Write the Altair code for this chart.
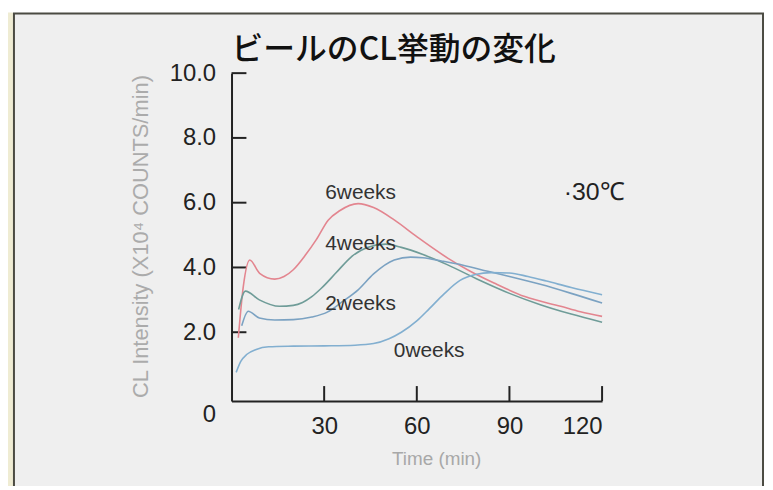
import altair as alt
import pandas as pd

# ---- data ----
series_names = ["6weeks", "4weeks", "2weeks", "0weeks"]
series_colors = ["#e3858f", "#6f9c98", "#7ba2c2", "#82afd0"]

t_6w = [2.2, 3.8, 5.9, 9.1, 14, 17, 20, 24, 27.4, 31.3, 35, 41, 46, 52.8, 60, 70, 77, 85, 95, 106.6, 113, 120]
v_6w = [1.83, 3.4, 4.23, 3.82, 3.64, 3.72, 3.93, 4.39, 4.85, 5.46, 5.75, 5.97, 5.85, 5.46, 4.95, 4.29, 3.9, 3.52, 3.1, 2.8, 2.63, 2.49]

t_4w = [2.3, 4.5, 9, 15.5, 20, 23, 26, 29, 34, 38.8, 44, 50, 55, 62, 70, 80, 90, 100, 110, 120]
v_4w = [2.7, 3.27, 3.0, 2.8, 2.83, 2.92, 3.1, 3.35, 3.85, 4.33, 4.62, 4.72, 4.62, 4.4, 4.08, 3.62, 3.2, 2.85, 2.56, 2.31]

t_2w = [3.3, 5.4, 9, 14, 20, 26, 31, 36, 41, 46, 52.7, 58, 62, 68, 75, 83, 90, 100, 110, 120]
v_2w = [2.2, 2.65, 2.44, 2.38, 2.39, 2.47, 2.62, 2.95, 3.31, 3.8, 4.23, 4.32, 4.3, 4.2, 4.07, 3.88, 3.72, 3.48, 3.2, 2.9]

t_0w = [1.5, 3, 5, 8, 12, 20, 30, 40, 46, 51, 55, 60, 64, 69, 74, 79, 84, 90, 96, 102, 110, 120]
v_0w = [0.76, 1.1, 1.32, 1.47, 1.55, 1.57, 1.58, 1.6, 1.65, 1.8, 2.0, 2.35, 2.72, 3.2, 3.6, 3.78, 3.84, 3.83, 3.72, 3.58, 3.38, 3.16]

label_text = ["6weeks", "4weeks", "2weeks", "0weeks"]
label_t = [41.8, 41.8, 41.8, 64.0]
label_v = [6.3, 4.72, 2.88, 1.41]

note_text = ["·30℃"]
note_t = [107.6]
note_v = [6.32]

title_text = ["ビールのCL挙動の変化"]
title_t = [0]
title_v = [10.7]

x_ticks = [30, 60, 90, 120]
y_ticks = [0, 2, 4, 6, 8, 10]
y_tick_marks = [2, 4, 6, 8, 10]

x_title = "Time (min)"
y_title = "CL Intensity (X10⁴ COUNTS/min)"

# ---- build tables ----
rows = []
for name, ts, vs in zip(series_names, [t_6w, t_4w, t_2w, t_0w], [v_6w, v_4w, v_2w, v_0w]):
    for t, v in zip(ts, vs):
        rows.append({"series": name, "t": t, "v": v})
df = pd.DataFrame(rows)
labels_df = pd.DataFrame({"label": label_text, "t": label_t, "v": label_v})
note_df = pd.DataFrame({"label": note_text, "t": note_t, "v": note_v})
title_df = pd.DataFrame({"label": title_text, "t": title_t, "v": title_v})

W, H = 373, 330
FONT = "Liberation Sans"

x_scale = alt.Scale(domain=[0, 120], nice=False, zero=False)
y_scale = alt.Scale(domain=[-0.123, 10], nice=False, zero=False)

x_axis = alt.Axis(values=x_ticks, ticks=False, grid=False, domainColor="#222222", domainWidth=2,
                  labelFont=FONT, labelFontSize=24, labelColor="#222222", labelPadding=14,
                  title=x_title, titleFont=FONT, titleFontSize=19, titleFontWeight="normal",
                  titleColor="#a8a8a8", titleX=206, titleY=58, titleBaseline="middle",
                  titleAlign="center", zindex=2)
y_axis = alt.Axis(values=y_ticks, ticks=False, grid=False, domainColor="#222222", domainWidth=2,
                  labelExpr="datum.value === 0 ? '0' : format(datum.value, '.1f')",
                  labelOffset={"condition": {"test": "datum.value === 0", "value": 18}, "value": 0},
                  labelFont=FONT, labelFontSize=24, labelColor="#222222", labelPadding=16,
                  title=y_title, titleFont=FONT, titleFontSize=22, titleFontWeight="normal",
                  titleColor="#ababab", titleX=-92, titleY=164, titleBaseline="middle",
                  titleAlign="center", zindex=2)

X = alt.X("t:Q", scale=x_scale, axis=x_axis)
Y = alt.Y("v:Q", scale=y_scale, axis=y_axis)

one = pd.DataFrame({"k": [0]})
frame = alt.Chart(one).mark_rect(fill="#efefef", stroke="#4b4b42", strokeWidth=2).encode(
    x=alt.value(-219), x2=alt.value(535), y=alt.value(-60), y2=alt.value(460))
strip = alt.Chart(one).mark_rect(fill="#efecd3").encode(
    x=alt.value(-226), x2=alt.value(-220), y=alt.value(-61), y2=alt.value(460))

ytick = alt.Chart(pd.DataFrame({"v": y_tick_marks})).mark_rule(color="#222222", strokeWidth=2).encode(
    y=Y, x=alt.value(0), x2=alt.value(15))
xtick = alt.Chart(pd.DataFrame({"t": x_ticks})).mark_rule(color="#222222", strokeWidth=2).encode(
    x=X, y=alt.value(H), y2=alt.value(H - 15))

lines = alt.Chart(df).mark_line(interpolate="monotone", strokeWidth=1.6).encode(
    x=X, y=Y,
    color=alt.Color("series:N", scale=alt.Scale(domain=series_names, range=series_colors), legend=None))

labels = alt.Chart(labels_df).mark_text(font=FONT, fontSize=21, color="#333333", align="center",
                                        baseline="middle").encode(x=X, y=Y, text="label:N")
note = alt.Chart(note_df).mark_text(font=FONT, fontSize=25, color="#222222", align="left",
                                    baseline="middle").encode(x=X, y=Y, text="label:N")
title = alt.Chart(title_df).mark_text(font="Noto Sans CJK JP", fontSize=32, fontWeight=500,
                                      color="#111111", align="left", baseline="middle").encode(
    x=X, y=Y, text="label:N")

chart = alt.layer(strip, frame, ytick, xtick, lines, labels, note, title).properties(
    width=W, height=H,
    autosize="none",
    padding={"left": 225, "top": 64, "right": 164, "bottom": 84},
    background="white",
).configure_view(stroke=None)

chart.save("out.html", embed_options={"renderer": "svg", "actions": False})
